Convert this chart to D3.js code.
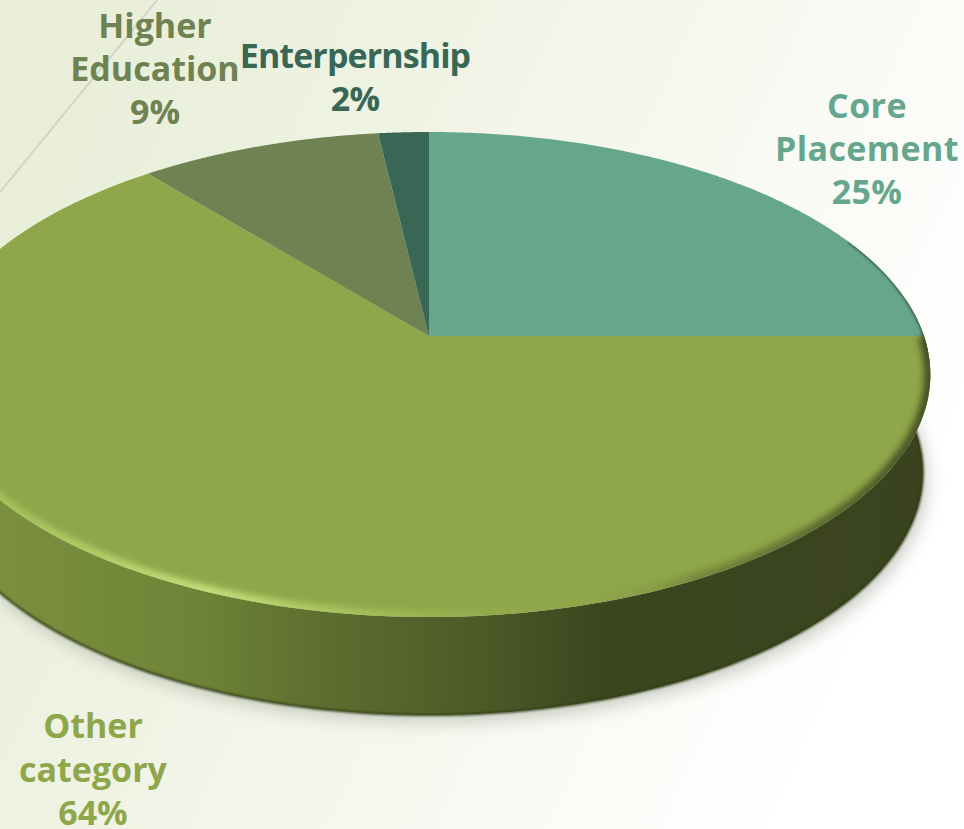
<!DOCTYPE html>
<html><head><meta charset="utf-8">
<script src="https://cdn.jsdelivr.net/npm/d3@7"></script>
<style>html,body{margin:0;padding:0;background:#fff}svg{display:block}</style>
</head><body><svg id="c" width="964" height="829"></svg>
<script>
const categories = ["Core Placement", "Other category", "Higher Education", "Enterpernship"];
const values = [25, 64, 9.1, 1.9];
const percentLabels = ["25%", "64%", "9%", "2%"];
const labelLines = [["Core", "Placement"], ["Other", "category"], ["Higher", "Education"], ["Enterpernship"]];
const colors = ["#66a68c", "#8fa64a", "#6f8251", "#386855"];

// layout
const W = 964, H = 829, cx = 429, cy = 336, R = 495, B = 236.4, k = 0.1588, depth = 99;
const labelAnchors = [[867, 118], [93, 738], [155, 38], [355, 68]];
const lineGaps = [43, 43.5, 43, 43];
const labelSpacing = [0.4, 0, 0, -0.9];

const svg = d3.select("#c");
const defs = svg.append("defs");

const bg = defs.append("linearGradient").attr("id","bg").attr("gradientUnits","userSpaceOnUse")
  .attr("x1",0).attr("y1",150).attr("x2",900).attr("y2",560);
[[0,"#e8eed8"],[0.3,"#eef2e1"],[0.62,"#f6f8ef"],[1,"#ffffff"]].forEach(s=>bg.append("stop").attr("offset",s[0]).attr("stop-color",s[1]));

const wall = defs.append("linearGradient").attr("id","wall").attr("gradientUnits","userSpaceOnUse")
  .attr("x1",0).attr("y1",0).attr("x2",W).attr("y2",0);
[[0,"#7b8f3e"],[0.2,"#6f8437"],[0.32,"#5f7030"],[0.5,"#4c5a27"],[0.63,"#3b451e"],[1,"#3a431e"]].forEach(s=>wall.append("stop").attr("offset",s[0]).attr("stop-color",s[1]));

const bevel = defs.append("linearGradient").attr("id","bevel").attr("gradientUnits","userSpaceOnUse")
  .attr("x1",0).attr("y1",0).attr("x2",W).attr("y2",0);
[[0,"#a6c45c",.9],[0.22,"#c4e07c",1],[0.42,"#a6c25a",.65],[0.6,"#8fa64a",0],[0.72,"#3a431e",.3],[0.96,"#3a431e",.85]].forEach(s=>bevel.append("stop").attr("offset",s[0]).attr("stop-color",s[1]).attr("stop-opacity",s[2]));

[["b3",3],["b2",1.2],["b9",9]].forEach(([id,s])=>{
  defs.append("filter").attr("id",id).attr("x","-10%").attr("y","-10%").attr("width","120%").attr("height","120%")
    .append("feGaussianBlur").attr("stdDeviation",s);
});

const pie = d3.pie().sort(null).startAngle(0).endAngle(2*Math.PI);
const slices = pie(values);

// circle of angle a (clockwise from 12 o'clock) seen in perspective
const rim = a => {
  const u = Math.sin(a), v = -Math.cos(a), w = 1 - k*v;
  return [cx + R*u/w, cy + B*v/w];
};
const lower = p => [cx + (p[0]-cx)*0.985, p[1] + depth - 1];
const line = d3.line();
const sweep = (a0,a1) => d3.range(0,181).map(i => a0 + (a1-a0)*i/180);
const full = sweep(0,2*Math.PI);

// background
svg.append("rect").attr("width",W).attr("height",H).attr("fill","url(#bg)");
svg.append("path").attr("d",line([[157,0],[0,192]])).attr("stroke","#d2d6c4").attr("stroke-width",2).attr("fill","none");

// drop shadow
svg.append("path").attr("d",line(full.map(rim).map(lower).map(p=>[p[0]+4,p[1]+7])))
  .attr("fill","#9ea394").attr("opacity",.55).attr("filter","url(#b9)");

// side wall
const wallAngles = sweep(Math.PI*0.45, Math.PI*1.6);
const wallTop = wallAngles.map(rim), wallBot = wallAngles.map(rim).map(lower);
svg.append("path").attr("d",line(wallTop.concat(wallBot.slice().reverse()))+"Z").attr("fill","url(#wall)");
svg.append("path").attr("d",line(wallBot)).attr("fill","none").attr("stroke","#2f3a14").attr("stroke-width",2).attr("filter","url(#b2)");

// top face
slices.forEach((d,i)=>{
  const pts = [[cx,cy]].concat(sweep(d.startAngle,d.endAngle).map(rim));
  svg.append("path").attr("d",line(pts)+"Z").attr("fill",colors[i]);
});

// bevel along the near rim, kept inside the top face
defs.append("clipPath").attr("id","face").append("path").attr("d",line(full.map(rim))+"Z");
const bevelG = svg.append("g").attr("clip-path","url(#face)");
bevelG.append("path").attr("d",line(sweep(Math.PI*0.36, Math.PI*0.52).map(rim)))
  .attr("fill","none").attr("stroke","#2f4a3c").attr("stroke-opacity",.7).attr("stroke-width",3).attr("filter","url(#b2)");
bevelG.append("path")
  .attr("d",line(sweep(Math.PI*0.5, Math.PI*1.62).map(rim)))
  .attr("fill","none").attr("stroke","url(#bevel)").attr("stroke-width",13).attr("filter","url(#b3)");

// labels
slices.forEach((d,i)=>{
  const [x,y] = labelAnchors[i];
  const t = svg.append("text").attr("text-anchor","middle").attr("font-family","'Open Sans', sans-serif")
    .attr("font-weight",700).attr("font-size",34).attr("letter-spacing",labelSpacing[i]).attr("fill",colors[i]);
  labelLines[i].concat(percentLabels[i]).forEach((s,j)=>{
    t.append("tspan").attr("x",x).attr("y",y + j*lineGaps[i]).text(s);
  });
});
</script></body></html>
